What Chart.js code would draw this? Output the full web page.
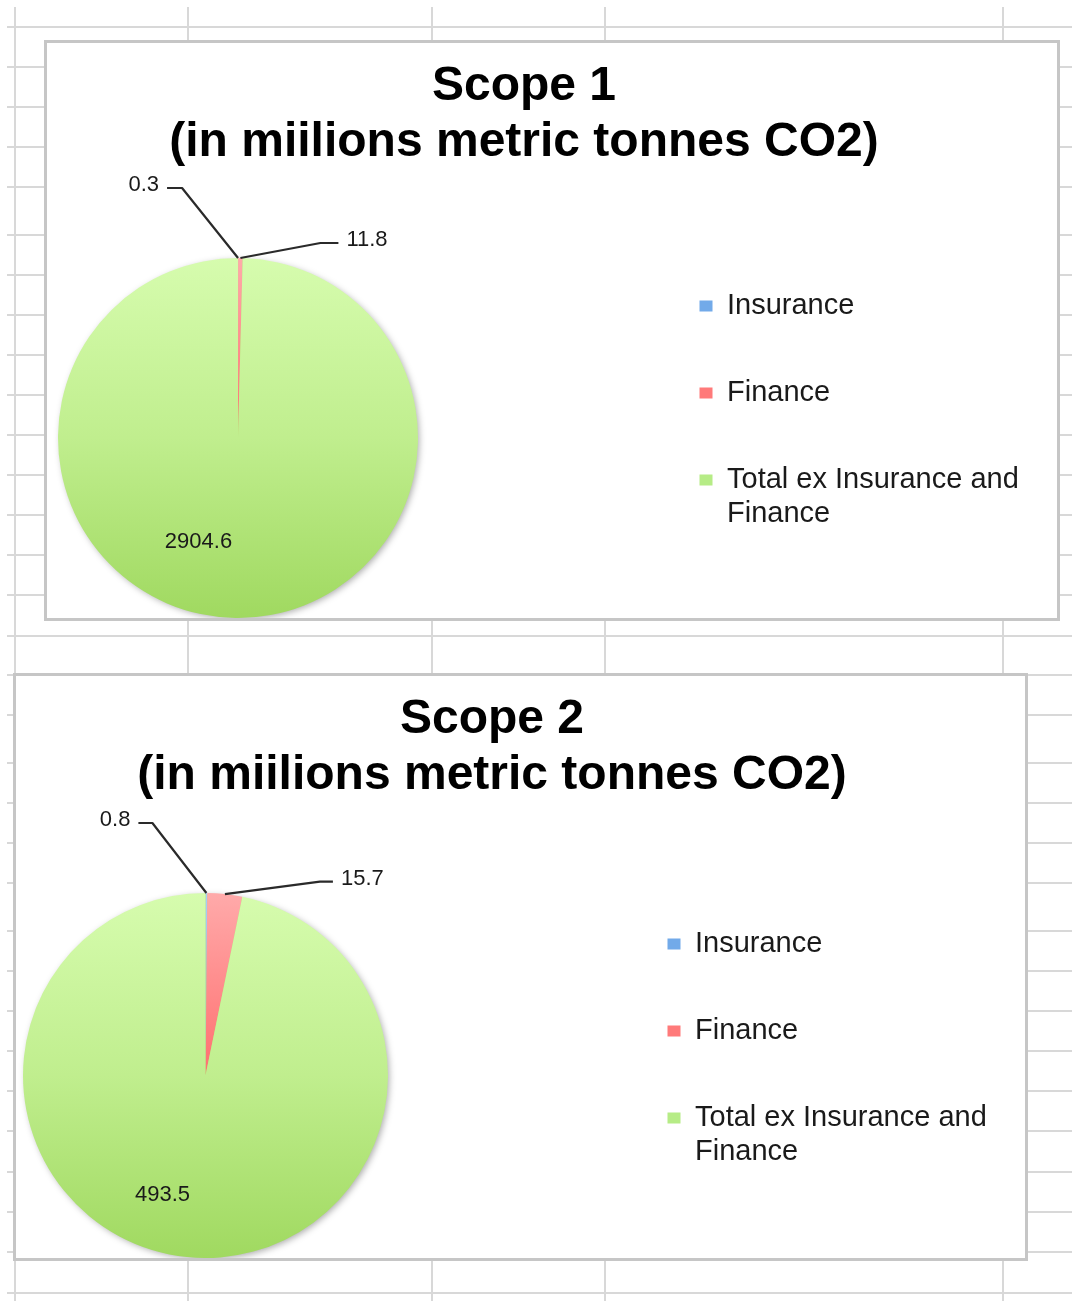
<!DOCTYPE html>
<html>
<head>
<meta charset="utf-8">
<script src="https://cdn.jsdelivr.net/npm/chart.js@4.4.0/dist/chart.umd.min.js"></script>
<style>
  html, body { margin: 0; padding: 0; background: #fff; }
  body { width: 1072px; height: 1301px; position: relative; overflow: hidden; }
  .gl { position: absolute; background: #d8d8d8; }
  .box { position: absolute; background: #fff; border: 3px solid #c6c6c6; box-sizing: border-box; }
  canvas { position: absolute; }
</style>
</head>
<body>
<div id="sheet"></div>
<div class="box" style="left:44px;top:40px;width:1016px;height:581px"></div>
<canvas id="scope1" width="1010" height="575" style="left:47px;top:43px"></canvas>
<div class="box" style="left:13px;top:673px;width:1015px;height:588px"></div>
<canvas id="scope2" width="1009" height="582" style="left:16px;top:676px"></canvas>

<script>
// data
const categories = ['Insurance', 'Finance', 'Total ex Insurance and Finance'];
const legendLabels = ['Insurance', 'Finance', ['Total ex Insurance and', 'Finance']];
const scope1Values = [0.3, 11.8, 2904.6];
const scope2Values = [0.8, 15.7, 493.5];
const scope1Title = ['Scope 1', '(in miilions metric tonnes CO2)'];
const scope2Title = ['Scope 2', '(in miilions metric tonnes CO2)'];

// colours (top / middle / bottom of the shaded slices, flat ones for the legend)
const topColors = ['#a8cdf6', '#ffaaaa', '#d6fcae'];
const midColors = ['#80b2ec', '#ff6f6f', '#c0ee8e'];
const bottomColors = ['#5c96dd', '#ff3a3a', '#a0d960'];
const legendColors = ['#72aae9', '#ff7a7a', '#b6ec86'];

// spreadsheet grid behind the charts
const sheetRows = [27, 67, 107, 147, 187, 235, 275, 315, 355, 395, 435, 475, 515, 555, 595, 636, 675,
  715, 763, 803, 843, 883, 931, 971, 1011, 1051, 1091, 1131, 1172, 1212, 1252, 1293];
const sheetCols = [15, 188, 432, 605, 1003];

const sheet = document.getElementById('sheet');
sheetRows.forEach(y => {
  const d = document.createElement('div');
  d.className = 'gl';
  d.style.cssText = 'left:7px;top:' + (y - 1) + 'px;width:1065px;height:2px';
  sheet.appendChild(d);
});
sheetCols.forEach(x => {
  const d = document.createElement('div');
  d.className = 'gl';
  d.style.cssText = 'left:' + (x - 1) + 'px;top:7px;width:2px;height:1294px';
  sheet.appendChild(d);
});

const FONT = "'Liberation Sans', Arial, sans-serif";

function shade(ctx) {
  const chart = ctx.chart;
  const area = chart.chartArea;
  const i = ctx.dataIndex;
  if (!area) return midColors[i];
  const g = chart.ctx.createLinearGradient(0, area.top, 0, area.bottom);
  g.addColorStop(0, topColors[i]);
  g.addColorStop(0.5, midColors[i]);
  g.addColorStop(1, bottomColors[i]);
  return g;
}

// square the pie area on the left and park the legend where Excel put it
const panelLayout = {
  id: 'panelLayout',
  afterLayout(chart, args, opts) {
    const a = chart.chartArea;
    a.right = a.left + a.height;
    a.width = a.height;
    const lg = chart.legend;
    const lo = chart.options.plugins.legend.labels;
    const fs = lo.font.size;
    const w = lg.right - lg.left;
    lg.left = opts.legendX - lo.padding - lo.boxWidth - fs / 2;
    lg.right = lg.left + w;
    lg.top = opts.legendY - Math.max(fs, lo.boxHeight) / 2 - lo.padding;
    lg.bottom = chart.height;
  },
  beforeDatasetsDraw(chart) {
    const arc = chart.getDatasetMeta(0).data[0];
    if (!arc) return;
    const ctx = chart.ctx;
    ctx.save();
    ctx.shadowColor = 'rgba(0,0,0,0.35)';
    ctx.shadowBlur = 7;
    ctx.shadowOffsetX = 2;
    ctx.shadowOffsetY = 2;
    ctx.fillStyle = '#b0e070';
    ctx.beginPath();
    ctx.arc(arc.x, arc.y, arc.outerRadius - 1, 0, Math.PI * 2);
    ctx.fill();
    ctx.restore();
  }
};

// value labels, with leader lines for the thin slices
const callouts = {
  id: 'callouts',
  afterDatasetsDraw(chart, args, opts) {
    const ctx = chart.ctx;
    const meta = chart.getDatasetMeta(0);
    const values = chart.data.datasets[0].data;
    ctx.save();
    ctx.font = opts.font;
    ctx.fillStyle = opts.color;
    ctx.strokeStyle = opts.lineColor;
    ctx.lineWidth = 2.2;
    ctx.lineJoin = 'round';
    ctx.textBaseline = 'middle';
    meta.data.forEach((arc, i) => {
      const p = arc.getProps(['x', 'y', 'startAngle', 'endAngle', 'outerRadius'], true);
      const mid = (p.startAngle + p.endAngle) / 2;
      const text = String(values[i]);
      const o = opts.outside[i];
      if (o) {
        const ax = p.x + Math.cos(mid) * p.outerRadius;
        const ay = p.y + Math.sin(mid) * p.outerRadius;
        const bx = ax + o.bend[0], by = ay + o.bend[1];
        const ex = bx + o.stub;
        ctx.beginPath();
        ctx.moveTo(ax, ay);
        ctx.lineTo(bx, by);
        ctx.lineTo(ex, by);
        ctx.stroke();
        ctx.textAlign = o.stub < 0 ? 'right' : 'left';
        ctx.fillText(text, ex + Math.sign(o.stub) * 8, by - 3);
      } else if (opts.inside[i]) {
        ctx.textAlign = 'center';
        ctx.fillText(text, p.x + opts.inside[i][0], p.y + opts.inside[i][1]);
      }
    });
    ctx.restore();
  }
};

function makePie(id, values, title, panel) {
  return new Chart(document.getElementById(id), {
    type: 'pie',
    data: {
      labels: categories,
      datasets: [{
        data: values,
        backgroundColor: shade,
        borderWidth: 0
      }]
    },
    plugins: [panelLayout, callouts],
    options: {
      responsive: false,
      animation: false,
      devicePixelRatio: 1,
      events: [],
      layout: { padding: panel.padding },
      plugins: {
        title: {
          display: true,
          text: title,
          color: '#000',
          font: { family: FONT, size: 48, weight: 'bold', lineHeight: 56 / 48 },
          padding: panel.titlePadding
        },
        legend: {
          display: true,
          position: 'right',
          align: 'start',
          labels: {
            font: { family: FONT, size: 29, lineHeight: 1.18 },
            color: '#1a1a1a',
            boxWidth: 13,
            boxHeight: 11,
            padding: 58,
            generateLabels: (chart) => chart.data.labels.map((l, i) => ({
              text: legendLabels[i],
              fillStyle: legendColors[i],
              strokeStyle: legendColors[i],
              lineWidth: 0,
              fontColor: '#1a1a1a',
              hidden: false,
              index: i
            }))
          }
        },
        tooltip: { enabled: false },
        panelLayout: { legendX: panel.legendX, legendY: panel.legendY },
        callouts: {
          font: '22px ' + FONT,
          color: '#1a1a1a',
          lineColor: '#2a2a2a',
          outside: panel.outside,
          inside: panel.inside
        }
      }
    }
  });
}

makePie('scope1', scope1Values, scope1Title, {
  padding: { left: 11, right: 67, top: 0, bottom: 0 },
  titlePadding: { top: 16, bottom: 87 },
  legendX: 680, legendY: 263,
  outside: { 0: { bend: [-56, -70], stub: -15 }, 1: { bend: [80, -15], stub: 18 } },
  inside: { 2: [-39.5, 103.5] }
});

makePie('scope2', scope2Values, scope2Title, {
  padding: { left: 7, right: 64, top: 0, bottom: 0 },
  titlePadding: { top: 16, bottom: 89 },
  legendX: 679, legendY: 268,
  outside: { 0: { bend: [-54, -70], stub: -14 }, 1: { bend: [95, -12.5], stub: 13 } },
  inside: { 2: [-43, 119.5] }
});
</script>
</body>
</html>
